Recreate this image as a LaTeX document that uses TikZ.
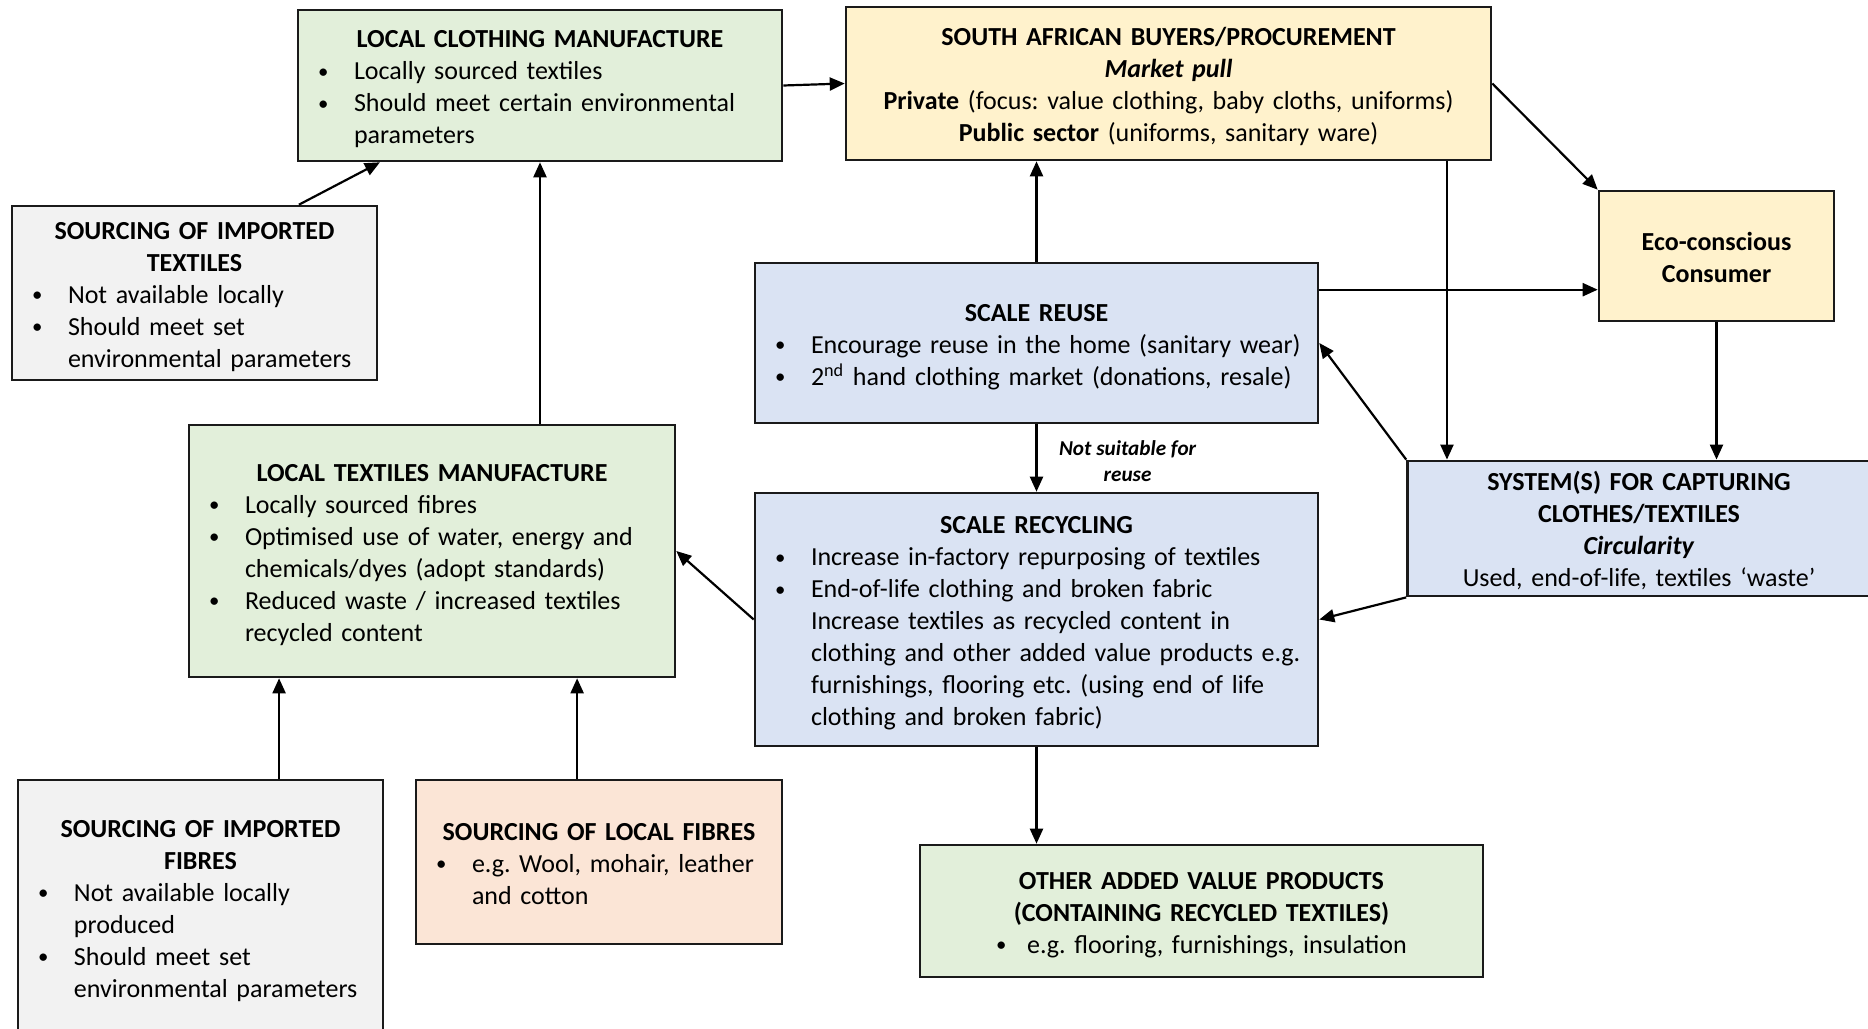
\documentclass[tikz,border=0pt]{standalone}
\usepackage{fontspec}
\setmainfont{Carlito}
\usetikzlibrary{arrows.meta,calc}
\definecolor{cgreen}{HTML}{E2EFDA}
\definecolor{cyellow}{HTML}{FFF2CC}
\definecolor{cgray}{HTML}{F2F2F2}
\definecolor{cblue}{HTML}{DAE3F3}
\definecolor{cpeach}{HTML}{FBE5D6}
\definecolor{cborder}{HTML}{1A1A1A}
\newcommand\tstrut{\rule{0pt}{14.8pt}}
\newcommand\nl{\hfil\break}
\newcommand\bdot{\raisebox{0.7pt}{\scalebox{0.8}{•}}}
\newcommand\bul[1]{\par\hangindent=28pt\hangafter=1\leftskip=0pt\rightskip=0pt plus 1fil minus 80pt\noindent\hbox to 28pt{\hspace{10pt}\bdot\hfil}\strut#1\strut\par}
\newcommand\hd[1]{{\centering\bfseries\tstrut#1\strut\par}}
\tikzset{
  box/.style={draw=cborder, line width=1.3pt, rectangle, inner sep=0pt,
    font=\fontsize{13}{16}\selectfont,
    execute at begin node={\setlength\parindent{0pt}\frenchspacing}},
  arr/.style={-{Triangle[length=7.5pt,width=6.5pt]}, line width=1.1pt, draw=black},
  lbl/.style={font=\fontsize{10.6}{13}\selectfont\bfseries\itshape, align=center, inner sep=0pt}
}
\begin{document}
\begin{tikzpicture}[x=0.5pt,y=-0.5pt]
\fill[white] (0,0) rectangle (1868,1028);
\useasboundingbox (0,0) rectangle (1868,1028);

\node[box, fill=cgreen, text width=242pt, minimum height=75.5pt] (lcm) at (540,85.5)
 {\hd{LOCAL CLOTHING MANUFACTURE}\bul{Locally sourced textiles}\bul{Should meet certain environmental\nl parameters}};

\node[box, fill=cyellow, text width=322.5pt, minimum height=76.5pt, align=center] (sab) at (1168.5,83.5)
 {\tstrut\textbf{SOUTH AFRICAN BUYERS/PROCUREMENT}\\\textbf{\textit{Market pull}}\\\textbf{Private} (focus: value clothing, baby cloths, uniforms)\\\textbf{Public sector} (uniforms, sanitary ware)\strut};

\node[box, fill=cgray, text width=182.5pt, minimum height=87pt] (sit) at (194.5,293)
 {\hd{SOURCING OF IMPORTED\\TEXTILES}\bul{Not available locally}\bul{Should meet set\nl environmental parameters}};

\node[box, fill=cyellow, text width=117.5pt, minimum height=65pt, align=center] (eco) at (1716.5,256)
 {\tstrut\textbf{Eco-conscious}\\\textbf{Consumer}\strut};

\node[box, fill=cblue, text width=281.5pt, minimum height=80pt] (reuse) at (1036.5,343)
 {\hd{SCALE REUSE}\bul{Encourage reuse in the home (sanitary wear)}\bul{2\textsuperscript{nd} hand clothing market (donations, resale)}};

\node[box, fill=cgreen, text width=243pt, minimum height=126pt] (ltm) at (432,551)
 {\hd{LOCAL TEXTILES MANUFACTURE}\bul{Locally sourced fibres}\bul{Optimised use of water, energy and\nl chemicals/dyes (adopt standards)}\bul{Reduced waste / increased textiles\nl recycled content}};

\node[box, fill=cblue, text width=281.5pt, minimum height=126.5pt] (rec) at (1036.5,619.5)
 {\hd{SCALE RECYCLING}\bul{Increase in-factory repurposing of textiles}\bul{End-of-life clothing and broken fabric\nl Increase textiles as recycled content in\nl clothing and other added value products e.g.\nl furnishings, flooring etc. (using end of life\nl clothing and broken fabric)}};

\node[box, fill=cblue, text width=231.5pt, minimum height=65.5pt, align=center] (sys) at (1639,528.5)
 {\tstrut\textbf{SYSTEM(S) FOR CAPTURING}\\\textbf{CLOTHES/TEXTILES}\\\textbf{\textit{Circularity}}\\Used, end-of-life, textiles ‘waste’\strut};

\node[box, fill=cgray, text width=182.5pt, minimum height=127pt] (sif) at (200.5,907)
 {\hd{SOURCING OF IMPORTED\\FIBRES}\bul{Not available locally\nl produced}\bul{Should meet set\nl environmental parameters}};

\node[box, fill=cpeach, text width=183pt, minimum height=82pt] (slf) at (599,862)
 {\hd{SOURCING OF LOCAL FIBRES}\bul{e.g. Wool, mohair, leather\nl and cotton}};

\node[box, fill=cgreen, text width=281.5pt, minimum height=66pt, align=center] (oav) at (1201.5,911)
 {\tstrut\textbf{OTHER ADDED VALUE PRODUCTS}\\\textbf{(CONTAINING RECYCLED TEXTILES)}\\\makebox[15.5pt][l]{\bdot}e.g. flooring, furnishings, insulation\strut};

\node[lbl] (nsr) at (1127.6,461) {Not suitable for\\reuse};

% connectors
\draw[arr] (lcm.east) -- (sab.west);
\draw[arr] ($(sit.north west)!0.784!(sit.north east)$) -- ($(lcm.south west)!0.171!(lcm.south east)$);
\draw[arr] (lcm.south |- ltm.north) -- (lcm.south);
\draw[arr] (reuse.north) -- (reuse.north |- sab.south);
\coordinate (sabd) at ($(sab.south west)!0.93!(sab.south east)$);
\draw[arr] (sabd) -- (sabd |- sys.north);
\draw[arr] (sab.east) -- (eco.north west);
\coordinate (ecol) at ($(eco.north west)!0.754!(eco.south west)$);
\draw[arr] (reuse.east |- ecol) -- (ecol);
\draw[arr] (eco.south) -- (eco.south |- sys.north);
\draw[arr] (sys.north west) -- (reuse.east);
\draw[arr] (reuse.south) -- (rec.north);
\draw[arr] (sys.south west) -- (rec.east);
\draw[arr] (rec.west) -- (ltm.east);
\draw[arr] (rec.south) -- (rec.south |- oav.north);
\coordinate (ltma) at ($(ltm.south west)!0.187!(ltm.south east)$);
\draw[arr] (ltma |- sif.north) -- (ltma);
\coordinate (ltmb) at ($(ltm.south west)!0.797!(ltm.south east)$);
\draw[arr] (ltmb |- slf.north) -- (ltmb);
\end{tikzpicture}
\end{document}
